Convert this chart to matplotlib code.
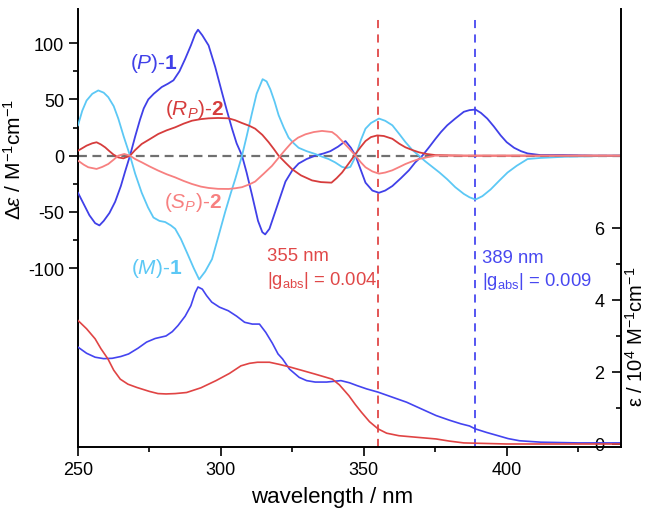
import matplotlib
matplotlib.use("Agg")
import matplotlib.pyplot as plt
from matplotlib.ticker import MultipleLocator, FixedLocator

plt.rcParams['font.family'] = ['Liberation Sans', 'DejaVu Sans']
plt.rcParams['mathtext.fontset'] = 'custom'
plt.rcParams['mathtext.rm'] = 'Liberation Sans'
plt.rcParams['mathtext.it'] = 'Liberation Sans:italic'
plt.rcParams['mathtext.bf'] = 'Liberation Sans:bold'
plt.rcParams['axes.unicode_minus'] = False

# CD spectra (delta epsilon, M^-1 cm^-1)
wl_p1 = [250, 252, 254, 256, 257.5, 259, 261, 263, 265, 266.5, 268.2, 270, 271.7, 273, 274.6, 276.5,
         279.3, 281.5, 283.4, 285.5, 287.5, 289.5, 291, 292, 293.5, 295.7, 298, 300.4, 302, 303.9, 305.5,
         307.4, 309, 310.9, 313, 314.5, 315.5, 317, 319, 321, 322.6, 325, 327.2, 330, 333, 336, 338.3,
         341, 343.6, 345.5, 347.1, 349, 350.6, 353, 355.3, 357.5, 360, 363, 365.8, 368, 370.5, 373,
         375.1, 377, 379.2, 382, 385, 387, 389.1, 391, 393.2, 395.5, 397.9, 400, 402.6, 405, 407.3,
         411.9, 420, 430, 440]
cd_p1 = [-33, -43, -53, -60, -62, -58, -51, -41, -27, -14, 0, 17, 32, 42, 50, 55,
         61, 64, 67, 75, 86, 98, 108, 112, 107, 98, 79, 56, 41, 24, 11,
         0, -15, -35, -58, -68, -70, -65, -50, -35, -23, -13, -7, -3, 0, 2, 4,
         8, 13, 7, 0, -13, -24, -31, -33, -31, -27, -20, -13, -6, 0, 8,
         15, 21, 27, 33, 39, 40.5, 41, 38, 33, 26, 18, 12, 7, 4, 2,
         0.5, 0.5, 0, 0]

wl_m1 = [250, 251.5, 253, 255, 257.1, 259, 260.6, 262.5, 264.1, 266, 268.2, 270, 272.3, 274.5, 276.4,
         278.5, 280.5, 282.5, 284, 286, 288.1, 290.5, 292.4, 294.5, 296.9, 299, 301.5, 303.5, 305,
         307.4, 309, 310.9, 312.5, 314.6, 316, 317.3, 318.8, 320.2, 322, 323.7, 325.5, 327.2, 330, 333,
         335.5, 337.7, 340, 342.4, 344, 345.3, 346.5, 347.6, 349, 350.6, 352.5, 355.3, 357.5, 360,
         362.5, 364.6, 367, 369.3, 371.5, 374, 376.5, 379.2, 382, 385, 387, 389.1, 391.5, 394.4,
         397.5, 400.3, 403.5, 407.3, 411.9, 420, 430, 440]
cd_m1 = [27, 40, 49, 55, 58, 56, 52, 44, 33, 17, 0, -16, -33, -46, -55,
         -58, -59, -62, -65, -74, -86, -100, -110, -103, -92, -73, -50, -33, -21,
         0, 17, 38, 55, 68, 66, 59, 48, 36, 25, 16, 11, 7, 4, 1.5,
         -1, -3, -6, -10, -11, -10, -4, 3, 14, 24, 29, 33, 31, 27,
         19, 12, 5, 0, -5, -10, -15, -21, -28, -34, -37, -39, -36, -30,
         -22, -15, -9, -3, -2, -1, -0.5, 0]

wl_rp = [250, 253, 255, 256.5, 258, 259.5, 261, 262.4, 264, 265.9, 268.2, 270, 272.3, 275, 278.1,
         281, 284, 287, 289.9, 293, 295.7, 299, 302.7, 305, 307.4, 310, 312, 314.5, 316.7, 318.5,
         320.2, 322.5, 324.9, 328, 331.9, 335, 338.7, 340.5, 342.4, 345, 347.1, 349, 350.6, 352.5,
         354.7, 357, 360, 362.5, 364.6, 367, 369.3, 372, 375.1, 385, 400, 420, 440]
cd_rp = [4.4, 8.9, 11, 11.9, 10, 7.4, 4, 1, -1.5, -2.4, 0, 5, 10.4, 14.5, 19.3,
         22.5, 25.2, 28.5, 31.1, 32.5, 33.2, 33.5, 33.2, 31.5, 29, 26.5, 24, 18.5, 12, 6,
         0, -6, -12, -17.5, -22, -23.5, -24, -20, -15, -6, 1.5, 8, 13, 16.5,
         18, 17.5, 15, 10.5, 7.4, 5, 3, 1.5, 0.5, 0, 0, 0, 0]

wl_sp = [250, 252, 253.6, 256.5, 258.5, 260.6, 262.5, 264.1, 266.2, 268.2, 270, 272.3, 275, 278.1,
         281, 284, 287, 289.9, 293, 295.7, 299, 302.7, 305, 307.4, 310, 312, 315, 317.9, 320.8,
         322.8, 324.9, 327, 329.6, 332.5, 335.4, 338.9, 340.5, 342.4, 345, 347.1, 349, 350.6, 353,
         355.3, 357.5, 360, 362.5, 364.6, 367, 369.3, 372, 375, 385, 400, 420, 440]
cd_sp = [-4.4, -8, -10.3, -11.8, -10, -7.4, -3.5, 0, 1.5, 0, -3, -5.9, -9.5, -13.3,
         -16.5, -19.3, -22.5, -25.2, -27.5, -28.7, -29.5, -29.6, -29, -28, -25.5, -23, -16, -9, 0,
         6, 12, 16, 19, 21, 22, 21, 18, 13, 6, 0, -6, -10.3, -14,
         -16, -15, -13, -10, -7.4, -5, -3, -1.5, 0, 0, 0, 0, 0]

# UV-vis absorption (epsilon, 10^4 M^-1 cm^-1)
wl_ab1 = [250, 253, 256, 259, 262, 265, 267.7, 271, 274, 277, 280.8, 283, 285, 287.5, 289.5, 291, 292,
          293.5, 295, 296.8, 299.5, 302.6, 305.5, 308.3, 311, 313.5, 315.7, 318, 320, 321.6, 324,
          327.4, 330, 333, 337, 342, 345, 347.7, 351, 355, 360, 365, 370, 375.3, 380, 384, 387, 389,
          393, 397, 400.5, 404.5, 412, 425, 440]
eps_ab1 = [2.69, 2.52, 2.41, 2.37, 2.38, 2.43, 2.5, 2.66, 2.83, 2.93, 3.0, 3.12, 3.29, 3.55, 3.84, 4.2, 4.36,
           4.3, 4.12, 3.94, 3.8, 3.7, 3.55, 3.38, 3.33, 3.33, 3.1, 2.8, 2.5, 2.36, 2.08,
           1.85, 1.76, 1.72, 1.72, 1.76, 1.7, 1.62, 1.53, 1.44, 1.3, 1.16, 0.98, 0.79, 0.66, 0.56, 0.5, 0.42,
           0.32, 0.23, 0.15, 0.09, 0.05, 0.03, 0.03]

wl_ab2 = [250, 253, 256, 258, 260.5, 262.5, 264.8, 267.5, 270.6, 275, 278, 280.8, 284, 288, 293, 298.3,
          303, 307, 310, 312.8, 317, 320.5, 324.5, 329, 333, 336, 339, 341.5, 344.8, 347, 349.2, 352,
          355, 358, 362.3, 368, 375.3, 380, 385, 400, 440]
eps_ab2 = [3.43, 3.2, 2.92, 2.65, 2.36, 2.05, 1.8, 1.66, 1.57, 1.46, 1.4, 1.39, 1.4, 1.43, 1.56, 1.76,
           1.96, 2.17, 2.24, 2.27, 2.27, 2.21, 2.13, 2.03, 1.94, 1.87, 1.8, 1.64, 1.34, 1.1, 0.88, 0.62,
           0.42, 0.3, 0.23, 0.19, 0.14, 0.08, 0.03, 0.0, 0.0]

marks = [355, 389]
gabs = ['0.004', '0.009']

c_p1 = '#4040e8'
c_m1 = '#5cc8f5'
c_rp = '#d63c3c'
c_sp = '#f78080'

fig = plt.figure(figsize=(6.51, 5.10), dpi=100)
ax = fig.add_axes([0.1198, 0.1216, 0.8341, 0.8588])
ax2 = ax.twinx()

ax.set_xlim(250, 440)
ax.set_ylim(-259, 130.4)
ax2.set_ylim(-0.083, 12.08)

# zero line
ax.axhline(0, color='#707070', lw=1.6, dashes=(4, 2.5), zorder=1)

ax.plot(wl_p1, cd_p1, color=c_p1, lw=1.3, zorder=3)
ax.plot(wl_m1, cd_m1, color=c_m1, lw=1.3, zorder=3)
ax.plot(wl_rp, cd_rp, color=c_rp, lw=1.3, zorder=3)
ax.plot(wl_sp, cd_sp, color=c_sp, lw=1.3, zorder=3)

ax2.plot(wl_ab1, eps_ab1, color='#4444f0', lw=1.2)
ax2.plot(wl_ab2, eps_ab2, color='#e04444', lw=1.2)

# marked wavelengths
for m, c in zip(marks, ['#e04848', '#4848f0']):
    ax.vlines(m, -259, 123, colors=c, lw=1.3, linestyles=(0, (4.5, 3.5)), zorder=2)

ax.text(276.5, 83, r'($\mathit{P}$)-$\mathbf{1}$', color=c_p1, fontsize=15, ha='center', va='center')
ax.text(290.7, 42, r'($\mathit{R_P}$)-$\mathbf{2}$', color=c_rp, fontsize=15, ha='center', va='center')
ax.text(290.3, -41, r'($\mathit{S_P}$)-$\mathbf{2}$', color=c_sp, fontsize=15, ha='center', va='center')
ax.text(277.5, -99, r'($\mathit{M}$)-$\mathbf{1}$', color=c_m1, fontsize=15, ha='center', va='center')

ax.text(316.2, -89, '%d nm' % marks[0], color='#e04848', fontsize=13.3, ha='left', va='center')
ax.text(316.2, -110, r'|g$_{\mathrm{abs}}$| = ' + gabs[0], color='#e04848', fontsize=13.3, ha='left', va='center')
ax.text(391.5, -90.5, '%d nm' % marks[1], color='#4848f0', fontsize=13.3, ha='left', va='center')
ax.text(391.5, -111, r'|g$_{\mathrm{abs}}$| = ' + gabs[1], color='#4848f0', fontsize=13.3, ha='left', va='center')

# axes styling
for s in ['top', 'right']:
    ax.spines[s].set_visible(False)
for s in ['top', 'left', 'bottom']:
    ax2.spines[s].set_visible(False)
for s in ['left', 'bottom']:
    ax.spines[s].set_linewidth(1.4)
ax2.spines['right'].set_linewidth(1.4)

ax.xaxis.set_major_locator(MultipleLocator(50))
ax.xaxis.set_minor_locator(FixedLocator([275, 325, 375, 425]))
ax.yaxis.set_major_locator(FixedLocator([-100, -50, 0, 50, 100]))
ax.yaxis.set_minor_locator(FixedLocator([-75, -25, 25, 75]))
ax.tick_params(which='major', direction='out', length=6.5, width=1.2, labelsize=13)
ax.tick_params(which='minor', direction='out', length=3.5, width=1.2)

ax2.yaxis.set_major_locator(FixedLocator([0, 2, 4, 6]))
ax2.yaxis.set_minor_locator(FixedLocator([1, 3, 5]))
ax2.tick_params(which='major', direction='in', length=6.5, width=1.2, labelsize=13, pad=-12)
ax2.tick_params(which='minor', direction='in', length=3.5, width=1.2)
for lab in ax2.get_yticklabels():
    lab.set_horizontalalignment('right')

ax.set_xlabel('wavelength / nm', fontsize=16)
ax.xaxis.set_label_coords(0.468, -0.088)
ax.set_ylabel(r'$\mathit{\Delta\varepsilon}$ / M$^{-1}$cm$^{-1}$', fontsize=15)
ax.yaxis.set_label_coords(-0.098, 0.658)
fig.text(0.976, 0.34, r'ε / 10$^{4}$ M$^{-1}$cm$^{-1}$', fontsize=14.5, rotation=90,
         ha='center', va='center')

fig.savefig('out.png', dpi=100)
